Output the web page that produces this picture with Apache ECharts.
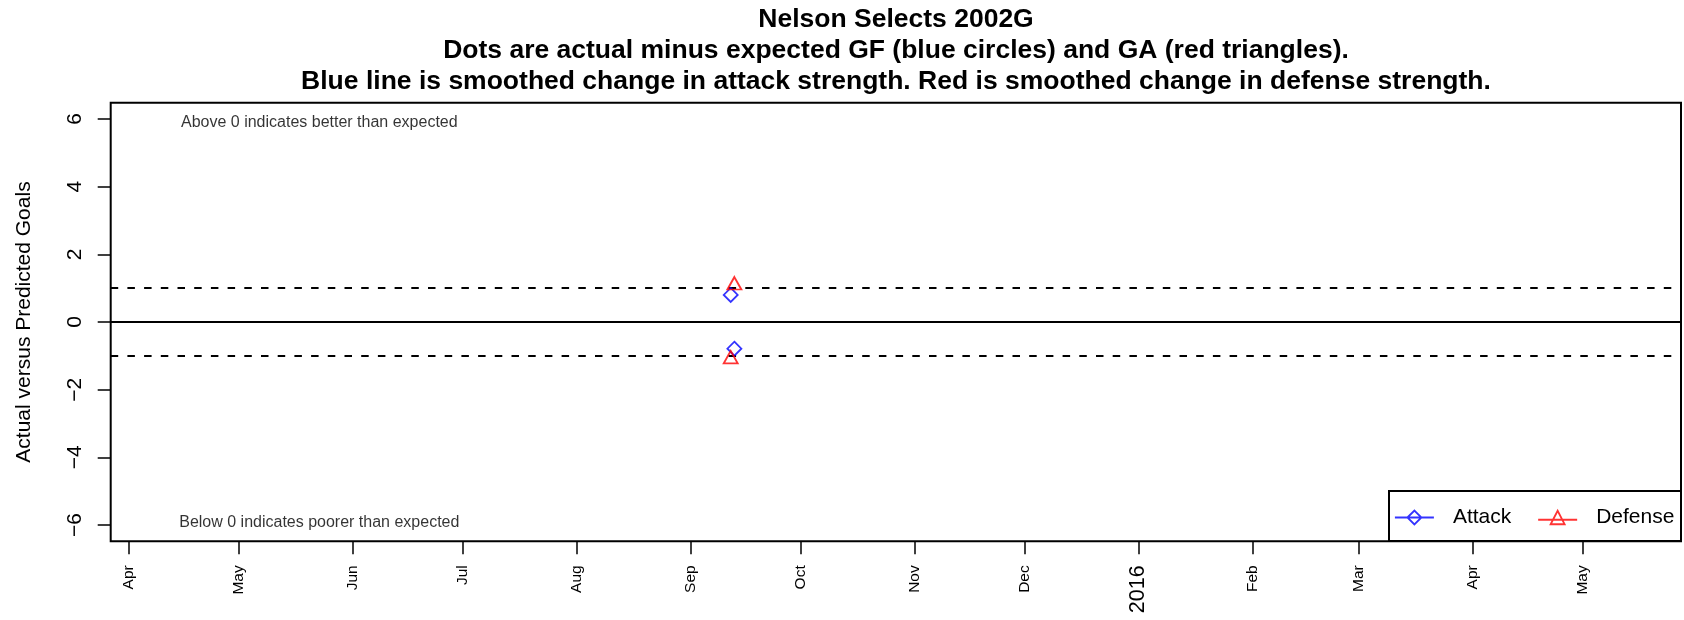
<!DOCTYPE html>
<html><head><meta charset="utf-8">
<script src="https://cdn.jsdelivr.net/npm/echarts@6/dist/echarts.min.js"></script>
<style>html,body{margin:0;padding:0;background:#fff}#chart{width:1684px;height:620px}</style>
</head><body><div id="chart"></div>
<script>
const titleLines = [
  'Nelson Selects 2002G',
  'Dots are actual minus expected GF (blue circles) and GA (red triangles).',
  'Blue line is smoothed change in attack strength. Red is smoothed change in defense strength.'
];
const yAxisTitle = 'Actual versus Predicted Goals';
const tickDates = ['2015-04-01','2015-05-01','2015-06-01','2015-07-01','2015-08-01','2015-09-01','2015-10-01','2015-11-01','2015-12-01','2016-01-01','2016-02-01','2016-03-01','2016-04-01','2016-05-01'];
const tickLabels = ['Apr','May','Jun','Jul','Aug','Sep','Oct','Nov','Dec','2016','Feb','Mar','Apr','May'];
const yTickValues = [-6,-4,-2,0,2,4,6];
const yTickLabels = ['\u22126','\u22124','\u22122','0','2','4','6'];
const attackDates = ['2015-09-12','2015-09-13'];
const attackValues = [0.8,-0.79];
const defenseDates = ['2015-09-13','2015-09-12'];
const defenseValues = [1.1,-1.08];
const solidRefLines = [0];
const dashedRefLines = [1,-1];
const noteTexts = ['Above 0 indicates better than expected','Below 0 indicates poorer than expected'];
const noteDates = ['2015-05-23','2015-05-23'];
const noteValues = [5.9,-5.92];
const xRange = ['2015-03-27 05:00','2016-05-27 17:00'];
const yRange = [-6.48, 6.48];
const legendNames = ['Attack','Defense'];

function toTs(s){
  const m = s.match(/(\d+)-(\d+)-(\d+)(?:\s+(\d+):(\d+))?/);
  return Date.UTC(+m[1], +m[2]-1, +m[3], m[4]? +m[4]:0, m[5]? +m[5]:0);
}
const tickTs = tickDates.map(toTs);
const FONT = 'Liberation Sans, Arial, Helvetica, sans-serif';

const chart = echarts.init(document.getElementById('chart'), null, {renderer:'canvas'});
chart.setOption({
  backgroundColor:'#fff',
  animation:false,
  title:{
    text: titleLines.join('\n'),
    left: 896, top: 4, padding:0, textAlign:'center',
    textStyle:{fontFamily:FONT, fontWeight:'bold', fontSize:26.5, lineHeight:31, color:'#000'}
  },
  grid:{left:110.7, right:3, top:102.7, bottom:78.7, show:true, borderColor:'#000', borderWidth:2, backgroundColor:'transparent'},
  xAxis:{
    type:'value', min:toTs(xRange[0]), max:toTs(xRange[1]),
    axisLine:{show:false, onZero:false},
    axisTick:{show:true, length:13, customValues:tickTs, lineStyle:{color:'#000', width:1.5}},
    splitLine:{show:false},
    axisLabel:{
      customValues:tickTs, rotate:90, margin:24, color:'#000', fontFamily:FONT, fontSize:15.5,
      showMinLabel:true, showMaxLabel:true,
      formatter:function(v){
        const i = tickTs.indexOf(+v);
        const t = i>=0 ? tickLabels[i] : '';
        return /^\d{4}$/.test(t) ? '{yr|'+t+'}' : t;
      },
      rich:{yr:{fontSize:21.5, fontFamily:FONT, color:'#000'}}
    }
  },
  yAxis:{
    type:'value', min:yRange[0], max:yRange[1],
    name:yAxisTitle, nameLocation:'middle', nameGap:76, nameRotate:90,
    nameTextStyle:{fontFamily:FONT, fontSize:21, color:'#000'},
    axisLine:{show:false, onZero:false},
    axisTick:{show:true, length:13, customValues:yTickValues, lineStyle:{color:'#000', width:1.5}},
    splitLine:{show:false},
    axisLabel:{
      customValues:yTickValues, rotate:90, margin:25, color:'#000', fontFamily:FONT, fontSize:21,
      formatter:function(v){ const i = yTickValues.indexOf(+v); return i>=0 ? yTickLabels[i] : ''; }
    }
  },
  legend:{
    data:[
      {name:legendNames[0], icon:'path://M0,7L39,7M12.5,7L19.5,0L26.5,7L19.5,14Z',
       itemStyle:{color:'rgba(0,0,0,0)', borderColor:'#0000ff', borderWidth:1.8}},
      {name:legendNames[1], icon:'path://M0,9L39,9M12.5,13.5L19.5,0L26.5,13.5Z',
       itemStyle:{color:'rgba(0,0,0,0)', borderColor:'#ff0000', borderWidth:1.8}}
    ],
    left:1394, top:507, padding:0, itemWidth:39, itemHeight:14, itemGap:26,
    selectedMode:false, z:10,
    textStyle:{fontFamily:FONT, fontSize:21, color:'#000', padding:[0,0,0,14]}
  },
  graphic:[{type:'rect', shape:{x:1389, y:491, width:292, height:50}, style:{fill:'#fff', stroke:'#000', lineWidth:2}, z:8}],
  series:[
    {
      name:'notes', type:'scatter', symbolSize:0, silent:true,
      data: noteTexts.map((t,i)=>({name:t, value:[toTs(noteDates[i]), noteValues[i]]})),
      label:{show:true, position:'inside', formatter:'{b}', fontFamily:FONT, fontSize:16, color:'#000'},
      markLine:{
        silent:true, symbol:['none','none'], label:{show:false},
        data:[
          ...solidRefLines.map(v=>({yAxis:v, lineStyle:{type:'solid', color:'#000', width:2}})),
          ...dashedRefLines.map(v=>({yAxis:v, lineStyle:{type:[7.5,9.2], color:'#000', width:2}}))
        ]
      }
    },
    {
      name:legendNames[0], type:'scatter', symbol:'diamond', symbolSize:14, z:5,
      data: attackDates.map((d,i)=>[toTs(d), attackValues[i]]),
      itemStyle:{color:'rgba(0,0,0,0)', borderColor:'#0000ff', borderWidth:1.8}
    },
    {
      name:legendNames[1], type:'scatter', symbol:'triangle', symbolSize:[14,12.5], symbolOffset:[0,-1.5], z:5,
      data: defenseDates.map((d,i)=>[toTs(d), defenseValues[i]]),
      itemStyle:{color:'rgba(0,0,0,0)', borderColor:'#ff0000', borderWidth:1.8}
    }
  ]
});
</script></body></html>
